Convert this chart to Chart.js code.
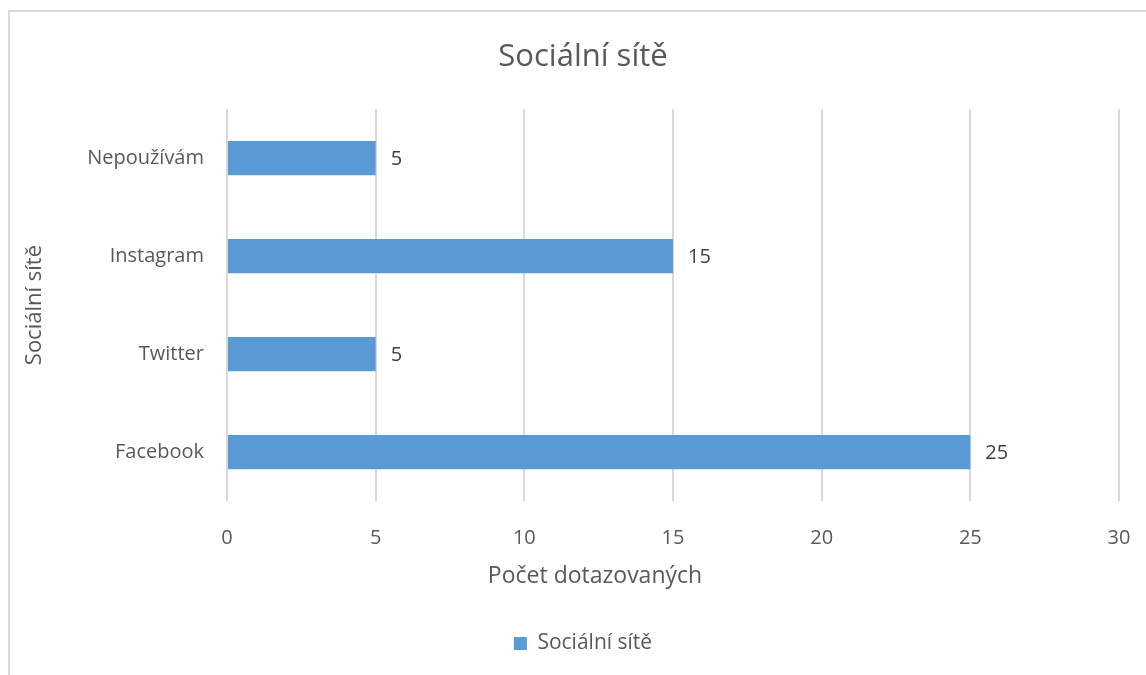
<!DOCTYPE html>
<html>
<head>
<meta charset="utf-8">
<script src="https://cdn.jsdelivr.net/npm/chart.js@4.4.0/dist/chart.umd.min.js"></script>
<style>
  body { margin: 0; background: #fff; }
  #wrap { position: relative; width: 1146px; height: 675px; overflow: hidden; }
  #frame { position: absolute; left: 8px; top: 10px; width: 1200px; height: 700px; border: 2px solid #d9d9d9; }
  #chart { position: absolute; left: 0; top: 0; }
</style>
</head>
<body>
<div id="wrap">
  <div id="frame"></div>
  <!-- the original chart is wider than the window and cut off on the right -->
  <canvas id="chart" width="1166" height="675"></canvas>
</div>
<script>
// data from the chart
const categories = ['Facebook', 'Twitter', 'Instagram', 'Nepoužívám'];
const counts = [25, 5, 15, 5];
const xTicks = [0, 5, 10, 15, 20, 25, 30];

const chartTitle = 'Sociální sítě';
const seriesName = 'Sociální sítě';
const xTitle = 'Počet dotazovaných';
const yTitle = 'Sociální sítě';

const fontFamily = '"Open Sans", "Noto Sans", sans-serif';
const textColor = '#595959';
const barColor = '#5b9bd5';

// draws the value next to each bar and the x axis title
const valueLabels = {
    id: 'valueLabels',
    afterDatasetsDraw(chart) {
        const ctx = chart.ctx;
        const meta = chart.getDatasetMeta(0);
        ctx.save();
        ctx.font = '20px ' + fontFamily;
        ctx.fillStyle = '#404040';
        ctx.textAlign = 'left';
        ctx.textBaseline = 'middle';
        meta.data.forEach(function(bar, i) {
            ctx.fillText(String(counts[i]), bar.x + 15, bar.y + 1);
        });
        // excel puts the axis title a bit left of the plot centre
        ctx.font = '23px ' + fontFamily;
        ctx.fillStyle = textColor;
        ctx.textAlign = 'center';
        const xs = chart.scales.x;
        ctx.fillText(xTitle, 595, xs.bottom - 47);
        ctx.restore();
    }
};

const ctx = document.getElementById('chart').getContext('2d');
const chart = new Chart(ctx, {
    type: 'bar',
    data: {
        labels: categories,
        datasets: [{
            label: seriesName,
            data: counts,
            backgroundColor: barColor,
            borderWidth: 0,
            barPercentage: 0.35,
            categoryPercentage: 1
        }]
    },
    options: {
        indexAxis: 'y',
        responsive: false,
        animation: false,
        layout: {
            padding: { left: 0, right: 0, top: 0, bottom: 11 }
        },
        plugins: {
            title: {
                display: true,
                text: chartTitle,
                color: textColor,
                font: { family: fontFamily, size: 31, weight: 'normal' },
                padding: { top: 39, bottom: 33 }
            },
            legend: {
                position: 'bottom',
                labels: {
                    color: textColor,
                    font: { family: fontFamily, size: 21 },
                    boxWidth: 13,
                    boxHeight: 13,
                    padding: 10
                }
            },
            tooltip: { enabled: false }
        },
        scales: {
            x: {
                min: 0,
                max: 30,
                afterBuildTicks: function(scale) {
                    scale.ticks = xTicks.map(v => ({ value: v }));
                },
                afterFit: function(scale) {
                    scale.height = 122;
                    scale.paddingLeft = 0;
                    scale.paddingRight = 47;
                },
                grid: { color: '#d9d9d9', lineWidth: 2, drawTicks: false },
                border: { display: false },
                ticks: {
                    color: textColor,
                    font: { family: fontFamily, size: 20 },
                    padding: 25
                },
                title: { display: false, text: xTitle }
            },
            y: {
                reverse: true,
                afterFit: function(scale) { scale.width = 227; },
                grid: { display: false, drawTicks: false },
                border: { display: false },
                ticks: {
                    color: textColor,
                    font: { family: fontFamily, size: 20 },
                    padding: 23
                },
                title: {
                    display: true,
                    text: yTitle,
                    color: textColor,
                    font: { family: fontFamily, size: 22 },
                    padding: { top: 22, bottom: 4 }
                }
            }
        }
    },
    plugins: [valueLabels]
});
</script>
</body>
</html>
